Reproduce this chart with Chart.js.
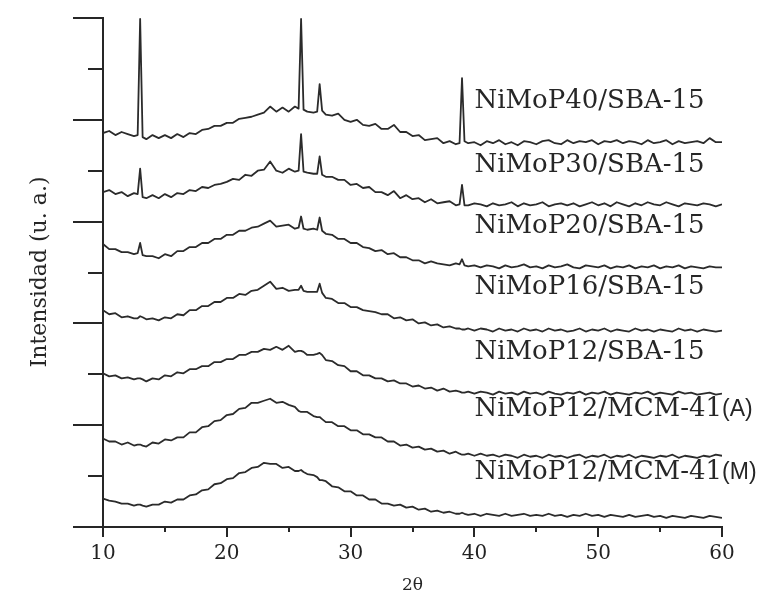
<!DOCTYPE html>
<html>
<head>
<meta charset="utf-8">
<script src="https://cdn.jsdelivr.net/npm/chart.js@4.4.0/dist/chart.umd.min.js"></script>
<style>
  html, body { margin: 0; padding: 0; background: #fff; }
</style>
</head>
<body>
<canvas id="xrdChart" width="760" height="598"></canvas>
<script>
// 2-theta grid (degrees), 0.5 deg step
const twoTheta = [
  10, 10.5, 11, 11.5, 12, 12.5, 13, 13.5, 14, 14.5,
  15, 15.5, 16, 16.5, 17, 17.5, 18, 18.5, 19, 19.5,
  20, 20.5, 21, 21.5, 22, 22.5, 23, 23.5, 24, 24.5,
  25, 25.5, 26, 26.5, 27, 27.5, 28, 28.5, 29, 29.5,
  30, 30.5, 31, 31.5, 32, 32.5, 33, 33.5, 34, 34.5,
  35, 35.5, 36, 36.5, 37, 37.5, 38, 38.5, 39, 39.5,
  40, 40.5, 41, 41.5, 42, 42.5, 43, 43.5, 44, 44.5,
  45, 45.5, 46, 46.5, 47, 47.5, 48, 48.5, 49, 49.5,
  50, 50.5, 51, 51.5, 52, 52.5, 53, 53.5, 54, 54.5,
  55, 55.5, 56, 56.5, 57, 57.5, 58, 58.5, 59, 59.5,
  60
];
// extra points on both sides of the sharp reflections (13, 26, 27.5, 39)
const shoulderAngles = [12.8, 13.2, 25.8, 26.2, 27.3, 27.7, 38.8, 39.2];

const seriesNames = [
  'NiMoP40/SBA-15', 'NiMoP30/SBA-15', 'NiMoP20/SBA-15', 'NiMoP16/SBA-15',
  'NiMoP12/SBA-15', 'NiMoP12/MCM-41(A)', 'NiMoP12/MCM-41(M)'
];

// intensities (offset stacked, arbitrary units)
const p40 = [
  387, 389, 385, 388, 386, 384, 499, 381, 385, 382,
  385, 382, 386, 383, 387, 386, 390, 391, 394, 394,
  397, 397, 401, 402, 403, 405, 407, 413, 408, 412,
  408, 413, 499, 408, 407, 435, 405, 404, 406, 400,
  398, 400, 395, 394, 396, 391, 391, 395, 388, 388,
  384, 385, 380, 381, 382, 377, 379, 376, 441, 377,
  378, 375, 379, 377, 380, 376, 378, 375, 379, 378,
  376, 379, 380, 377, 376, 380, 377, 379, 378, 380,
  376, 379, 378, 380, 377, 379, 378, 376, 380, 377,
  378, 380, 376, 379, 377, 378, 379, 377, 382, 378,
  378
];
const p40Shoulders = [385, 383, 411, 410, 408, 409, 377, 379];

const p30 = [
  329, 331, 327, 329, 325, 328, 352, 323, 326, 323,
  327, 324, 328, 327, 331, 330, 334, 333, 336, 337,
  339, 342, 341, 346, 345, 350, 351, 359, 350, 348,
  352, 349, 386, 348, 347, 364, 344, 344, 341, 341,
  336, 337, 333, 334, 329, 329, 326, 330, 323, 326,
  322, 323, 319, 322, 318, 319, 320, 316, 336, 316,
  318, 317, 315, 318, 316, 317, 319, 315, 318, 316,
  317, 319, 315, 317, 318, 316, 318, 315, 317, 319,
  316, 318, 315, 319, 317, 315, 318, 316, 319, 317,
  316, 319, 317, 315, 318, 317, 316, 318, 317, 315,
  317
];
const p30Shoulders = [327, 324, 350, 349, 347, 346, 317, 316];

const p20 = [
  278, 273, 273, 270, 270, 268, 279, 266, 266, 264,
  268, 266, 271, 271, 275, 275, 279, 279, 283, 283,
  287, 287, 291, 291, 294, 295, 298, 301, 295, 296,
  297, 293, 305, 292, 293, 304, 288, 287, 283, 283,
  279, 279, 275, 274, 271, 272, 268, 269, 265, 265,
  262, 262, 259, 261, 259, 258, 257, 259, 263, 256,
  257, 255, 257, 256, 254, 257, 255, 256, 258, 255,
  256, 254, 257, 255, 256, 258, 255, 254, 257, 256,
  255, 257, 254, 256, 255, 257, 254, 256, 255, 257,
  254, 256, 255, 257, 254, 256, 255, 254, 256, 255,
  255
];
const p20Shoulders = [269, 267, 294, 293, 292, 291, 258, 257];

const p16 = [
  213, 209, 210, 206, 207, 205, 207, 204, 205, 203,
  206, 205, 209, 208, 213, 213, 217, 217, 221, 221,
  225, 225, 229, 228, 232, 233, 237, 241, 234, 235,
  232, 233, 237, 231, 231, 239, 225, 224, 220, 220,
  216, 216, 213, 212, 211, 209, 209, 205, 206, 203,
  204, 200, 201, 198, 199, 196, 197, 195, 194, 195,
  193, 195, 194, 192, 195, 193, 194, 192, 195, 193,
  194, 192, 195, 193, 194, 192, 193, 195, 192, 194,
  193, 195, 192, 194, 193, 192, 195, 193, 194, 192,
  194, 193, 192, 195, 193, 194, 192, 194, 193, 192,
  193
];
const p16Shoulders = [205, 206, 233, 232, 231, 230, 195, 194];

const p12sba = [
  151, 148, 149, 146, 147, 145, 146, 143, 146, 145,
  149, 148, 152, 151, 155, 155, 158, 158, 162, 162,
  165, 165, 169, 169, 172, 172, 175, 174, 177, 174,
  178, 172, 173, 169, 169, 171, 164, 163, 159, 158,
  153, 153, 149, 149, 146, 146, 143, 144, 141, 141,
  138, 139, 136, 137, 134, 136, 133, 134, 132, 133,
  131, 133, 132, 130, 133, 131, 132, 130, 133, 131,
  132, 130, 133, 131, 130, 132, 131, 133, 130, 132,
  131, 133, 130, 132, 131, 130, 132, 131, 133, 130,
  132, 131, 130, 133, 131, 132, 130, 131, 132, 130,
  131
];
const p12sbaShoulders = [146, 145, 173, 172, 170, 169, 133, 132];

const p12mcmA = [
  87, 84, 84, 81, 83, 80, 81, 79, 83, 82,
  86, 85, 88, 88, 93, 93, 98, 99, 104, 105,
  110, 111, 116, 117, 122, 122, 124, 126, 122, 123,
  120, 118, 113, 113, 109, 108, 103, 103, 99, 99,
  95, 95, 91, 91, 88, 88, 84, 84, 80, 81,
  78, 79, 76, 77, 74, 75, 72, 74, 71, 72,
  70, 72, 70, 71, 69, 71, 70, 68, 71, 69,
  70, 68, 71, 69, 70, 68, 70, 71, 68, 70,
  69, 71, 68, 70, 69, 71, 68, 70, 69, 68,
  70, 69, 71, 68, 70, 69, 68, 70, 69, 71,
  70
];
const p12mcmAShoulders = [81, 80, 114, 113, 108, 106, 72, 71];

const p12mcmM = [
  28, 26, 25, 23, 23, 21, 22, 20, 22, 22,
  25, 24, 27, 27, 31, 32, 36, 37, 42, 43,
  47, 48, 53, 54, 58, 59, 63, 62, 62, 58,
  59, 55, 56, 52, 51, 46, 45, 40, 39, 35,
  35, 31, 31, 27, 27, 23, 23, 21, 22, 19,
  20, 17, 18, 15, 16, 14, 15, 13, 14, 12,
  13, 11, 13, 12, 11, 13, 11, 12, 13, 11,
  12, 11, 13, 11, 12, 10, 12, 11, 13, 11,
  12, 10, 12, 11, 10, 12, 10, 11, 12, 10,
  11, 9, 11, 10, 9, 11, 10, 9, 11, 10,
  9
];
const p12mcmMShoulders = [22, 21, 55, 54, 49, 46, 13, 13];

// where each curve name sits (2theta, intensity)
const labelAnchors = [[40, 418], [40, 355], [40, 295], [40, 236], [40, 172], [40, 116], [40, 54]];

const xMinorTicks = [15, 25, 35, 45, 55];
const yMinorTicks = [50, 150, 250, 350, 450];

const inkColor = '#262626';

function buildPoints(vals, shoulders) {
  const pts = twoTheta.map((x, i) => ({ x: x, y: vals[i] }));
  shoulderAngles.forEach((x, i) => pts.push({ x: x, y: shoulders[i] }));
  return pts.sort((a, b) => a.x - b.x);
}

const allSeries = [
  [p40, p40Shoulders], [p30, p30Shoulders], [p20, p20Shoulders], [p16, p16Shoulders],
  [p12sba, p12sbaShoulders], [p12mcmA, p12mcmAShoulders], [p12mcmM, p12mcmMShoulders]
];

const datasets = allSeries.map((s, i) => ({
  label: seriesNames[i],
  data: buildPoints(s[0], s[1]),
  borderColor: '#2b2b2b',
  borderWidth: 1.8,
  borderJoinStyle: 'round',
  pointRadius: 0,
  tension: 0,
  fill: false
}));

// minor ticks, curve names and axis titles
const decorPlugin = {
  id: 'decor',
  afterDraw(chart) {
    const ctx = chart.ctx;
    const xs = chart.scales.x;
    const ys = chart.scales.y;
    const area = chart.chartArea;
    ctx.save();
    ctx.strokeStyle = inkColor;
    ctx.lineWidth = 2;
    ctx.beginPath();
    xMinorTicks.forEach(v => {
      const px = Math.round(xs.getPixelForValue(v));
      ctx.moveTo(px, area.bottom);
      ctx.lineTo(px, area.bottom + 5);
    });
    yMinorTicks.forEach(v => {
      const py = Math.round(ys.getPixelForValue(v));
      ctx.moveTo(area.left, py);
      ctx.lineTo(area.left - 15, py);
    });
    ctx.stroke();

    ctx.fillStyle = inkColor;
    ctx.textBaseline = 'middle';
    ctx.textAlign = 'left';
    seriesNames.forEach((name, i) => {
      const px = xs.getPixelForValue(labelAnchors[i][0]);
      const py = ys.getPixelForValue(labelAnchors[i][1]);
      const m = name.match(/^(.*)(\(.\))$/);
      ctx.font = '26px "DejaVu Serif"';
      if (m) {
        ctx.fillText(m[1], px, py);
        const w = ctx.measureText(m[1]).width;
        ctx.font = '23px "Liberation Sans"';
        ctx.fillText(m[2], px + w, py + 1);
      } else {
        ctx.fillText(name, px, py);
      }
    });

    // axis titles
    ctx.textAlign = 'center';
    ctx.font = '17px "DejaVu Serif"';
    ctx.fillText('2\u03b8', (area.left + area.right) / 2, 586);
    ctx.translate(40, 272);
    ctx.rotate(-Math.PI / 2);
    ctx.font = '22px "DejaVu Serif"';
    ctx.fillText('Intensidad (u. a.)', 0, 0);
    ctx.restore();
  }
};

new Chart(document.getElementById('xrdChart'), {
  type: 'line',
  data: { datasets: datasets },
  options: {
    responsive: false,
    animation: false,
    layout: { padding: { left: 0, right: 38, top: 18, bottom: 0 } },
    plugins: { legend: { display: false }, tooltip: { enabled: false } },
    scales: {
      x: {
        type: 'linear',
        min: 10,
        max: 60,
        afterFit: s => { s.height = 71; },
        border: { display: true, color: inkColor, width: 2 },
        grid: { drawOnChartArea: false, drawTicks: true, tickLength: 10, color: inkColor, lineWidth: 2 },
        ticks: {
          stepSize: 10,
          padding: 5,
          maxRotation: 0,
          color: '#222',
          font: { family: 'DejaVu Serif', size: 20 }
        }
      },
      y: {
        min: 0,
        max: 500,
        afterFit: s => { s.width = 103; },
        border: { display: true, color: inkColor, width: 2 },
        grid: { drawOnChartArea: false, drawTicks: true, tickLength: 30, color: inkColor, lineWidth: 2 },
        ticks: { display: false, stepSize: 100 }
      }
    }
  },
  plugins: [decorPlugin]
});
</script>
</body>
</html>
